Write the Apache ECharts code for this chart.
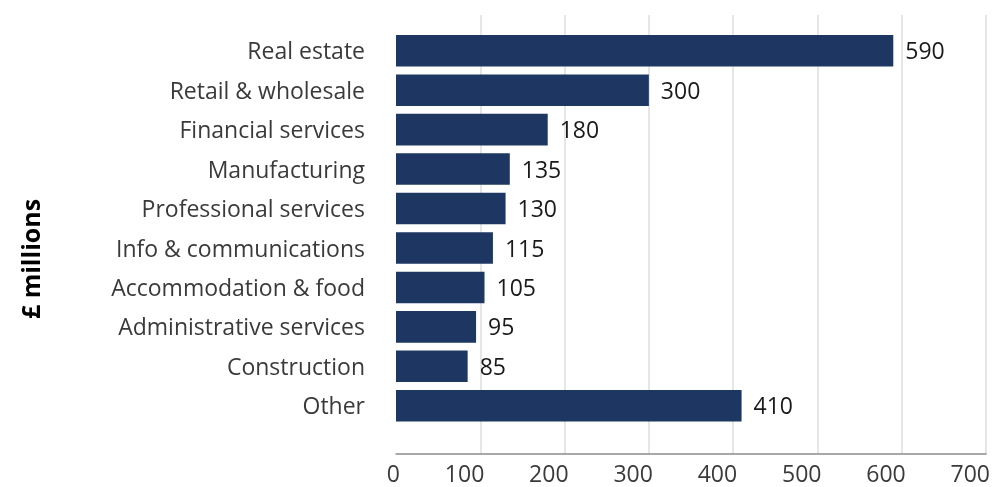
<!DOCTYPE html>
<html>
<head>
<meta charset="utf-8">
<script src="https://cdn.jsdelivr.net/npm/echarts@6/dist/echarts.min.js"></script>
<style>
html,body{margin:0;padding:0;background:#fff;}
#chart{width:995px;height:487px;}
</style>
</head>
<body>
<div id="chart"></div>
<script>
const categories = ["Real estate","Retail & wholesale","Financial services","Manufacturing","Professional services","Info & communications","Accommodation & food","Administrative services","Construction","Other"];
const values = [590,300,180,135,130,115,105,95,85,410];
const xTicks = [0,100,200,300,400,500,600,700];
const axisTitle = "£ millions";

const FONT = '"Open Sans", sans-serif';
const chart = echarts.init(document.getElementById('chart'), null, {renderer:'canvas'});
chart.setOption({
  animation:false,
  backgroundColor:'#ffffff',
  grid:[
    {left:396, right:9, top:15, bottom:32, containLabel:false},
    {left:396, right:9, top:31, bottom:61.5, containLabel:false}
  ],
  xAxis:[
    {gridIndex:0, type:'value', min:xTicks[0], max:xTicks[xTicks.length-1], interval:100,
     axisLine:{show:true, lineStyle:{color:'#8c8c8c', width:1.5}},
     axisTick:{show:false},
     splitLine:{show:true, showMinLine:false, lineStyle:{color:'#dedede', width:1.5}},
     axisLabel:{color:'#3a3a3a', fontFamily:FONT, fontSize:23, margin:10, align:'right', padding:[0,-4,0,0]}},
    {gridIndex:1, type:'value', min:xTicks[0], max:xTicks[xTicks.length-1], show:false}
  ],
  yAxis:[
    {gridIndex:0, type:'value', show:false},
    {gridIndex:1, type:'category', data:categories, inverse:true,
     axisLine:{show:false}, axisTick:{show:false}, splitLine:{show:false},
     axisLabel:{margin:31, formatter:'{c|{value}}',
       rich:{c:{color:'#3a3a3a', fontFamily:FONT, fontSize:23, lineHeight:27, padding:[4,0,0,0]}}}}
  ],
  graphic:[
    {type:'text', x:33, y:259, rotation:Math.PI/2,
     style:{text:axisTitle, font:'bold 25px "Open Sans", sans-serif', fill:'#000', textAlign:'center', textVerticalAlign:'middle'}}
  ],
  series:[
    {type:'bar', xAxisIndex:1, yAxisIndex:1, data:values, barCategoryGap:'20%',
     itemStyle:{color:'#1d3762'},
     label:{show:true, position:'right', distance:12, offset:[0,2], color:'#1a1a1a', fontFamily:FONT, fontSize:23}}
  ]
});
</script>
</body>
</html>
